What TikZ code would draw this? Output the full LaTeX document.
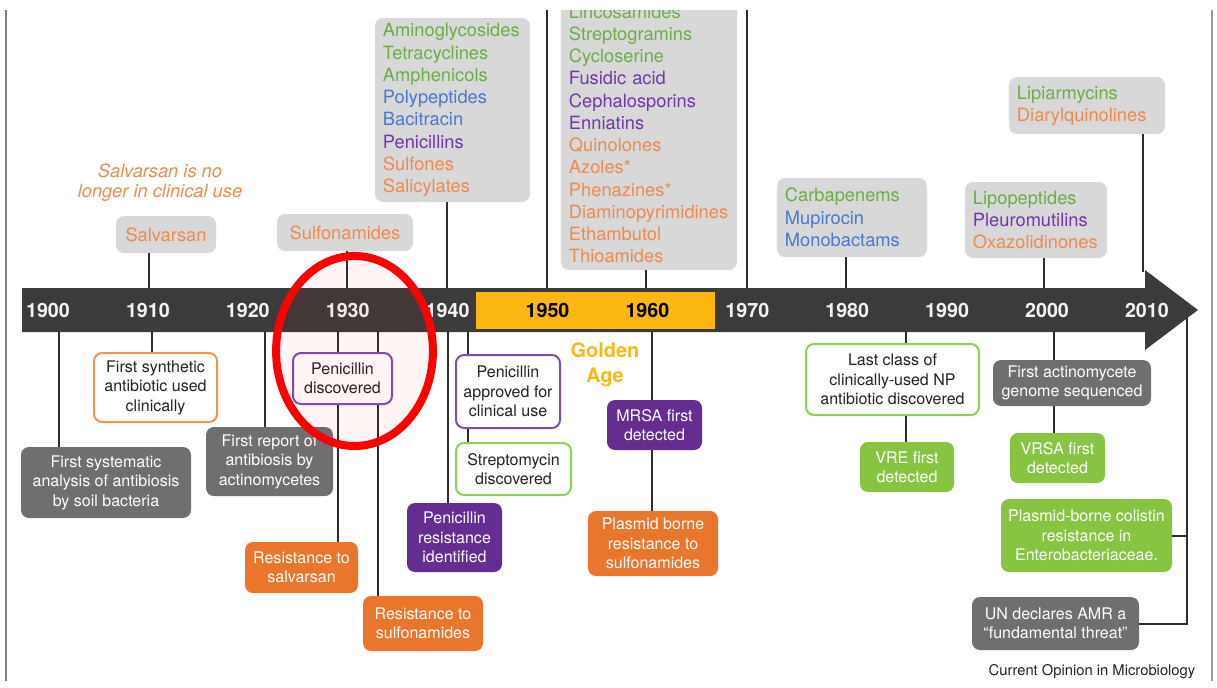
\documentclass[tikz,border=0pt]{standalone}
\usepackage{fontspec}
\setmainfont{TeX Gyre Heros}
\usepackage{tikz}

\definecolor{bargray}{HTML}{3B3B3B}
\definecolor{goldyel}{HTML}{FCB712}
\definecolor{boxgray}{HTML}{D8D8D8}
\definecolor{dkgray}{HTML}{6F6F6F}
\definecolor{evorange}{HTML}{EA762E}
\definecolor{evpurple}{HTML}{662D91}
\definecolor{evgreen}{HTML}{86C441}
\definecolor{lnorange}{HTML}{F29352}
\definecolor{lnpurple}{HTML}{7E4FB3}
\definecolor{lngreen}{HTML}{8DD15A}
\definecolor{clsgreen}{HTML}{6BAE47}
\definecolor{clsblue}{HTML}{4A78CA}
\definecolor{clspurple}{HTML}{7236A6}
\definecolor{clsorange}{HTML}{EF8A4F}
\definecolor{linegray}{HTML}{2E2E2E}
\definecolor{txtdark}{HTML}{222222}
\definecolor{yrwhite}{HTML}{F2F2F2}

\begin{document}
\begin{tikzpicture}[x=0.025cm, y=-0.025cm,
	conn/.style={draw=linegray, line width=0.05cm},
	evbox/.style={rounded corners=0.2cm, align=center, inner sep=0pt, font=\fontsize{11.4}{13.8}\selectfont},
	boxsize/.style 2 args={minimum width=#1*0.025cm, minimum height=#2*0.025cm},
	whitebox/.style={evbox, fill=white, draw=#1, line width=0.05cm, text=txtdark},
	fillbox/.style={evbox, fill=#1, text=white},
	listbox/.style={fill=boxgray, rounded corners=0.2cm, align=left, inner xsep=0.2cm, inner ysep=0pt, font=\fontsize{13}{15.8}\selectfont},
	yearlbl/.style={font=\fontsize{14}{16}\selectfont\bfseries}
	]
	\useasboundingbox (0,0) rectangle (1217,687);
	\begin{scope}
		\clip (0,10) rectangle (1217,687);

		% page edges
		\draw[gray, line width=0.05cm] (6,0) -- (6,681);
		\draw[gray!80, line width=0.05cm] (1212,0) -- (1212,681);

		% time axis
		\fill[bargray] (22,288) -- (1145,288) -- (1145,270) -- (1198,310) -- (1145,350) -- (1145,332) -- (22,332) -- cycle;
		\fill[goldyel] (476,292) rectangle (715,329);
		\foreach \yr/\col [count=\i from 0] in {1900/yrwhite,1910/yrwhite,1920/yrwhite,1930/yrwhite,1940/yrwhite,1950/black,1960/black,1970/yrwhite,1980/yrwhite,1990/yrwhite,2000/yrwhite,2010/yrwhite}
			\node[yearlbl, text=\col] (y\yr) at (48+99.9*\i,310) {\yr};
		\node[font=\fontsize{14.2}{17.8}\selectfont\bfseries, text=goldyel, align=center] (golden) at (605,364.5) {Golden\\Age};

		% connector ends on the axis
		\coordinate (u1910) at (149,288);
		\coordinate (u1930) at (347,288);
		\coordinate (u1940) at (447,288);
		\coordinate (u1950) at (547,288);
		\coordinate (u1960) at (646,288);
		\coordinate (u1970) at (747,288);
		\coordinate (u1980) at (846,288);
		\coordinate (u2000) at (1044,288);
		\coordinate (u2010) at (1143,272);
		\coordinate (d1901) at (59,332);
		\coordinate (d1910) at (152,332);
		\coordinate (d1922) at (265,332);
		\coordinate (d1929) at (338,332);
		\coordinate (d1933) at (378,332);
		\coordinate (d1940) at (448,332);
		\coordinate (d1942) at (468,332);
		\coordinate (d1960) at (652,332);
		\coordinate (d1986) at (906,332);
		\coordinate (d2001) at (1054,332);
		\coordinate (d2014) at (1187,318);

		% antibiotic classes
		\node[evbox, fill=boxgray, text=clsorange, boxsize={100}{37}, font=\fontsize{13}{15}\selectfont] (salv) at (166,234.5) {Salvarsan};
		\node[evbox, fill=boxgray, text=clsorange, boxsize={136}{37}, font=\fontsize{13}{15}\selectfont] (sulfa) at (345,232.5) {Sulfonamides};
		\node[font=\fontsize{13}{14.2}\selectfont\itshape, text=clsorange, align=center] (salvnote) at (160,183) {Salvarsan is no\\longer in clinical use};
		\node[listbox, text width=3.475cm, minimum height=184*0.025cm] (clsA) at (452.5,110) {\color{clsgreen}Aminoglycosides\\Tetracyclines\\Amphenicols\\\color{clsblue}Polypeptides\\Bacitracin\\\color{clspurple}Penicillins\\\color{clsorange}Sulfones\\Salicylates};
		\node[listbox, text width=4.0cm, minimum height=272*0.025cm] (clsB) at (649,134) {\color{clsgreen}Lincosamides\\Streptogramins\\Cycloserine\\\color{clspurple}Fusidic acid\\Cephalosporins\\Enniatins\\\color{clsorange}Quinolones\\Azoles*\\Phenazines*\\Diaminopyrimidines\\Ethambutol\\Thioamides};
		\node[listbox, text width=3.35cm, minimum height=79*0.025cm] (clsC) at (852,217.5) {\color{clsgreen}Carbapenems\\\color{clsblue}Mupirocin\\Monobactams};
		\node[listbox, text width=3.15cm, minimum height=76*0.025cm] (clsD) at (1036,220) {\color{clsgreen}Lipopeptides\\\color{clspurple}Pleuromutilins\\\color{clsorange}Oxazolidinones};
		\node[listbox, text width=3.5cm, minimum height=57*0.025cm] (clsE) at (1087,105.5) {\color{clsgreen}Lipiarmycins\\\color{clsorange}Diarylquinolines};

		% events below the axis
		\node[fillbox=dkgray, boxsize={170}{71}] (sys) at (106,482.5) {First systematic\\analysis of antibiosis\\by soil bacteria};
		\node[whitebox=lnorange, boxsize={123}{69}] (synth) at (155.5,387.5) {First synthetic\\antibiotic used\\clinically};
		\node[fillbox=dkgray, boxsize={127}{69}] (report) at (269.5,461.5) {First report of\\antibiosis by\\actinomycetes};
		\node[whitebox=lnpurple, boxsize={99}{51}] (pendisc) at (342.5,378.5) {Penicillin\\discovered};
		\node[fillbox=evorange, boxsize={113}{51}] (ressalv) at (301.5,567.5) {Resistance to\\salvarsan};
		\node[fillbox=evorange, boxsize={120}{55}] (ressulf) at (423,623.5) {Resistance to\\sulfonamides};
		\node[fillbox=evpurple, boxsize={95}{69}] (penres) at (454.5,537.5) {Penicillin\\resistance\\identified};
		\node[whitebox=lnpurple, boxsize={104}{73}] (penappr) at (508,391.5) {Penicillin\\approved for\\clinical use};
		\node[whitebox=lngreen, boxsize={115}{52}] (strep) at (513.5,469) {Streptomycin\\discovered};
		\node[fillbox=evpurple, boxsize={95}{50}] (mrsa) at (654.5,425) {MRSA first\\detected};
		\node[fillbox=evorange, boxsize={130}{65}] (plasmid) at (653,543.5) {Plasmid borne\\resistance to\\sulfonamides};
		\node[whitebox=lngreen, boxsize={173}{71}] (lastnp) at (892.5,379.5) {Last class of\\clinically-used NP\\antibiotic discovered};
		\node[fillbox=evgreen, boxsize={94}{50}] (vre) at (907,467) {VRE first\\detected};
		\node[fillbox=dkgray, boxsize={158}{46}] (genome) at (1072,383) {First actinomycete\\genome sequenced};
		\node[fillbox=evgreen, boxsize={95}{50}] (vrsa) at (1057.5,458) {VRSA first\\detected};
		\node[fillbox=evgreen, boxsize={171}{73}] (colis) at (1086.5,535.5) {Plasmid-borne colistin\\resistance in\\Enterobacteriaceae.};
		\node[fillbox=dkgray, boxsize={167}{53}] (un) at (1055.5,623.5) {UN declares AMR a\\“fundamental threat”};

		% connectors above the axis
		\draw[conn] (u1910) -- (u1910 |- salv.south);
		\draw[conn] (u1930) -- (u1930 |- sulfa.south);
		\draw[conn] (u1940) -- (u1940 |- clsA.south);
		\draw[conn] (u1950) -- (u1950 |- clsB.north);
		\draw[conn] (u1960) -- (u1960 |- clsB.south);
		\draw[conn] (u1970) -- (u1970 |- clsB.north);
		\draw[conn] (u1980) -- (u1980 |- clsC.south);
		\draw[conn] (u2000) -- (u2000 |- clsD.south);
		\draw[conn] (u2010) -- (u2010 |- clsE.south);

		% connectors below the axis
		\draw[conn] (d1901) -- (d1901 |- sys.north);
		\draw[conn] (d1910) -- (d1910 |- synth.north);
		\draw[conn] (d1922) -- (d1922 |- report.north);
		\draw[conn] (d1929) -- (d1929 |- pendisc.north);
		\draw[conn] (pendisc.south -| d1929) -- (d1929 |- ressalv.north);
		\draw[conn] (d1933) -- (d1933 |- pendisc.north);
		\draw[conn] (pendisc.south -| d1933) -- (d1933 |- ressulf.north);
		\draw[conn] (d1940) -- (d1940 |- penres.north);
		\draw[conn] (d1942) -- (d1942 |- penappr.north);
		\draw[conn] (penappr.south -| d1942) -- (d1942 |- strep.north);
		\draw[conn] (d1960) -- (d1960 |- mrsa.north);
		\draw[conn] (mrsa.south -| d1960) -- (d1960 |- plasmid.north);
		\draw[conn] (d1986) -- (d1986 |- lastnp.north);
		\draw[conn] (lastnp.south -| d1986) -- (d1986 |- vre.north);
		\draw[conn] (d2001) -- (d2001 |- genome.north);
		\draw[conn] (genome.south -| d2001) -- (d2001 |- vrsa.north);
		\draw[conn] (d2014) -- (d2014 |- un.east) -- (un.east);
		\draw[conn] (colis.east) -- (colis.east -| d2014);

		\node[font=\fontsize{10.5}{12}\selectfont, text=txtdark] (source) at (1092,672) {Current Opinion in Microbiology};

		% highlight round 1930
		\draw[red, line width=0.2cm, fill=red, fill opacity=0.04] (354.5,351) ellipse [x radius=1.96cm, y radius=2.375cm];
	\end{scope}
\end{tikzpicture}
\end{document}
